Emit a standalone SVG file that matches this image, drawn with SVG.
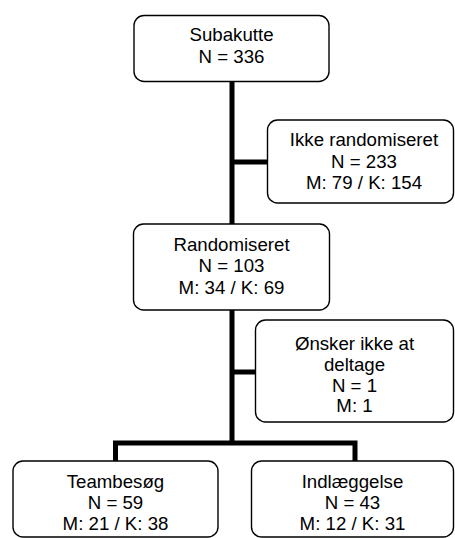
<svg xmlns="http://www.w3.org/2000/svg" width="455" height="538" viewBox="0 0 455 538">
<style>
.box{fill:#fff;stroke:#000;stroke-width:1.4}
.t{font-family:"Liberation Sans",Arial,sans-serif;font-size:18.67px;fill:#000;text-anchor:middle}
.c{fill:none;stroke:#000;stroke-width:5}
</style>
<rect width="455" height="538" fill="#fff"/>
<g id="connectors">
<path class="c" d="M232,81 V443"/>
<path class="c" d="M232,162 H268"/>
<path class="c" d="M232,372 H256"/>
<path class="c" d="M115.5,461 V443 H355 V461"/>
</g>
<g id="subakutte">
<rect class="box" x="134" y="15.5" width="195" height="66" rx="10"/>
<text class="t" x="231.5" y="41">Subakutte</text>
<text class="t" x="231.5" y="62.5">N = 336</text>
</g>
<g id="ikke-randomiseret">
<rect class="box" x="267.5" y="120" width="186" height="83" rx="10"/>
<text class="t" x="364" y="146">Ikke randomiseret</text>
<text class="t" x="364" y="167.5">N = 233</text>
<text class="t" x="364" y="189">M: 79 / K: 154</text>
</g>
<g id="randomiseret">
<rect class="box" x="133.5" y="224" width="196" height="86" rx="10"/>
<text class="t" x="231.5" y="250.5">Randomiseret</text>
<text class="t" x="231.5" y="272">N = 103</text>
<text class="t" x="231.5" y="293.5">M: 34 / K: 69</text>
</g>
<g id="oensker">
<rect class="box" x="255.5" y="320" width="198" height="102" rx="10"/>
<text class="t" x="354.5" y="349.5">Ønsker ikke at</text>
<text class="t" x="354.5" y="370.5">deltage</text>
<text class="t" x="354.5" y="391.5">N = 1</text>
<text class="t" x="354.5" y="412">M: 1</text>
</g>
<g id="teambesoeg">
<rect class="box" x="13" y="461" width="205" height="76" rx="10"/>
<text class="t" x="115.5" y="488">Teambesøg</text>
<text class="t" x="115.5" y="509">N = 59</text>
<text class="t" x="115.5" y="529.5">M: 21 / K: 38</text>
</g>
<g id="indlaeggelse">
<rect class="box" x="251.5" y="461" width="202" height="76" rx="10"/>
<text class="t" x="352.5" y="488">Indlæggelse</text>
<text class="t" x="352.5" y="509">N = 43</text>
<text class="t" x="352.5" y="529.5">M: 12 / K: 31</text>
</g>
</svg>
